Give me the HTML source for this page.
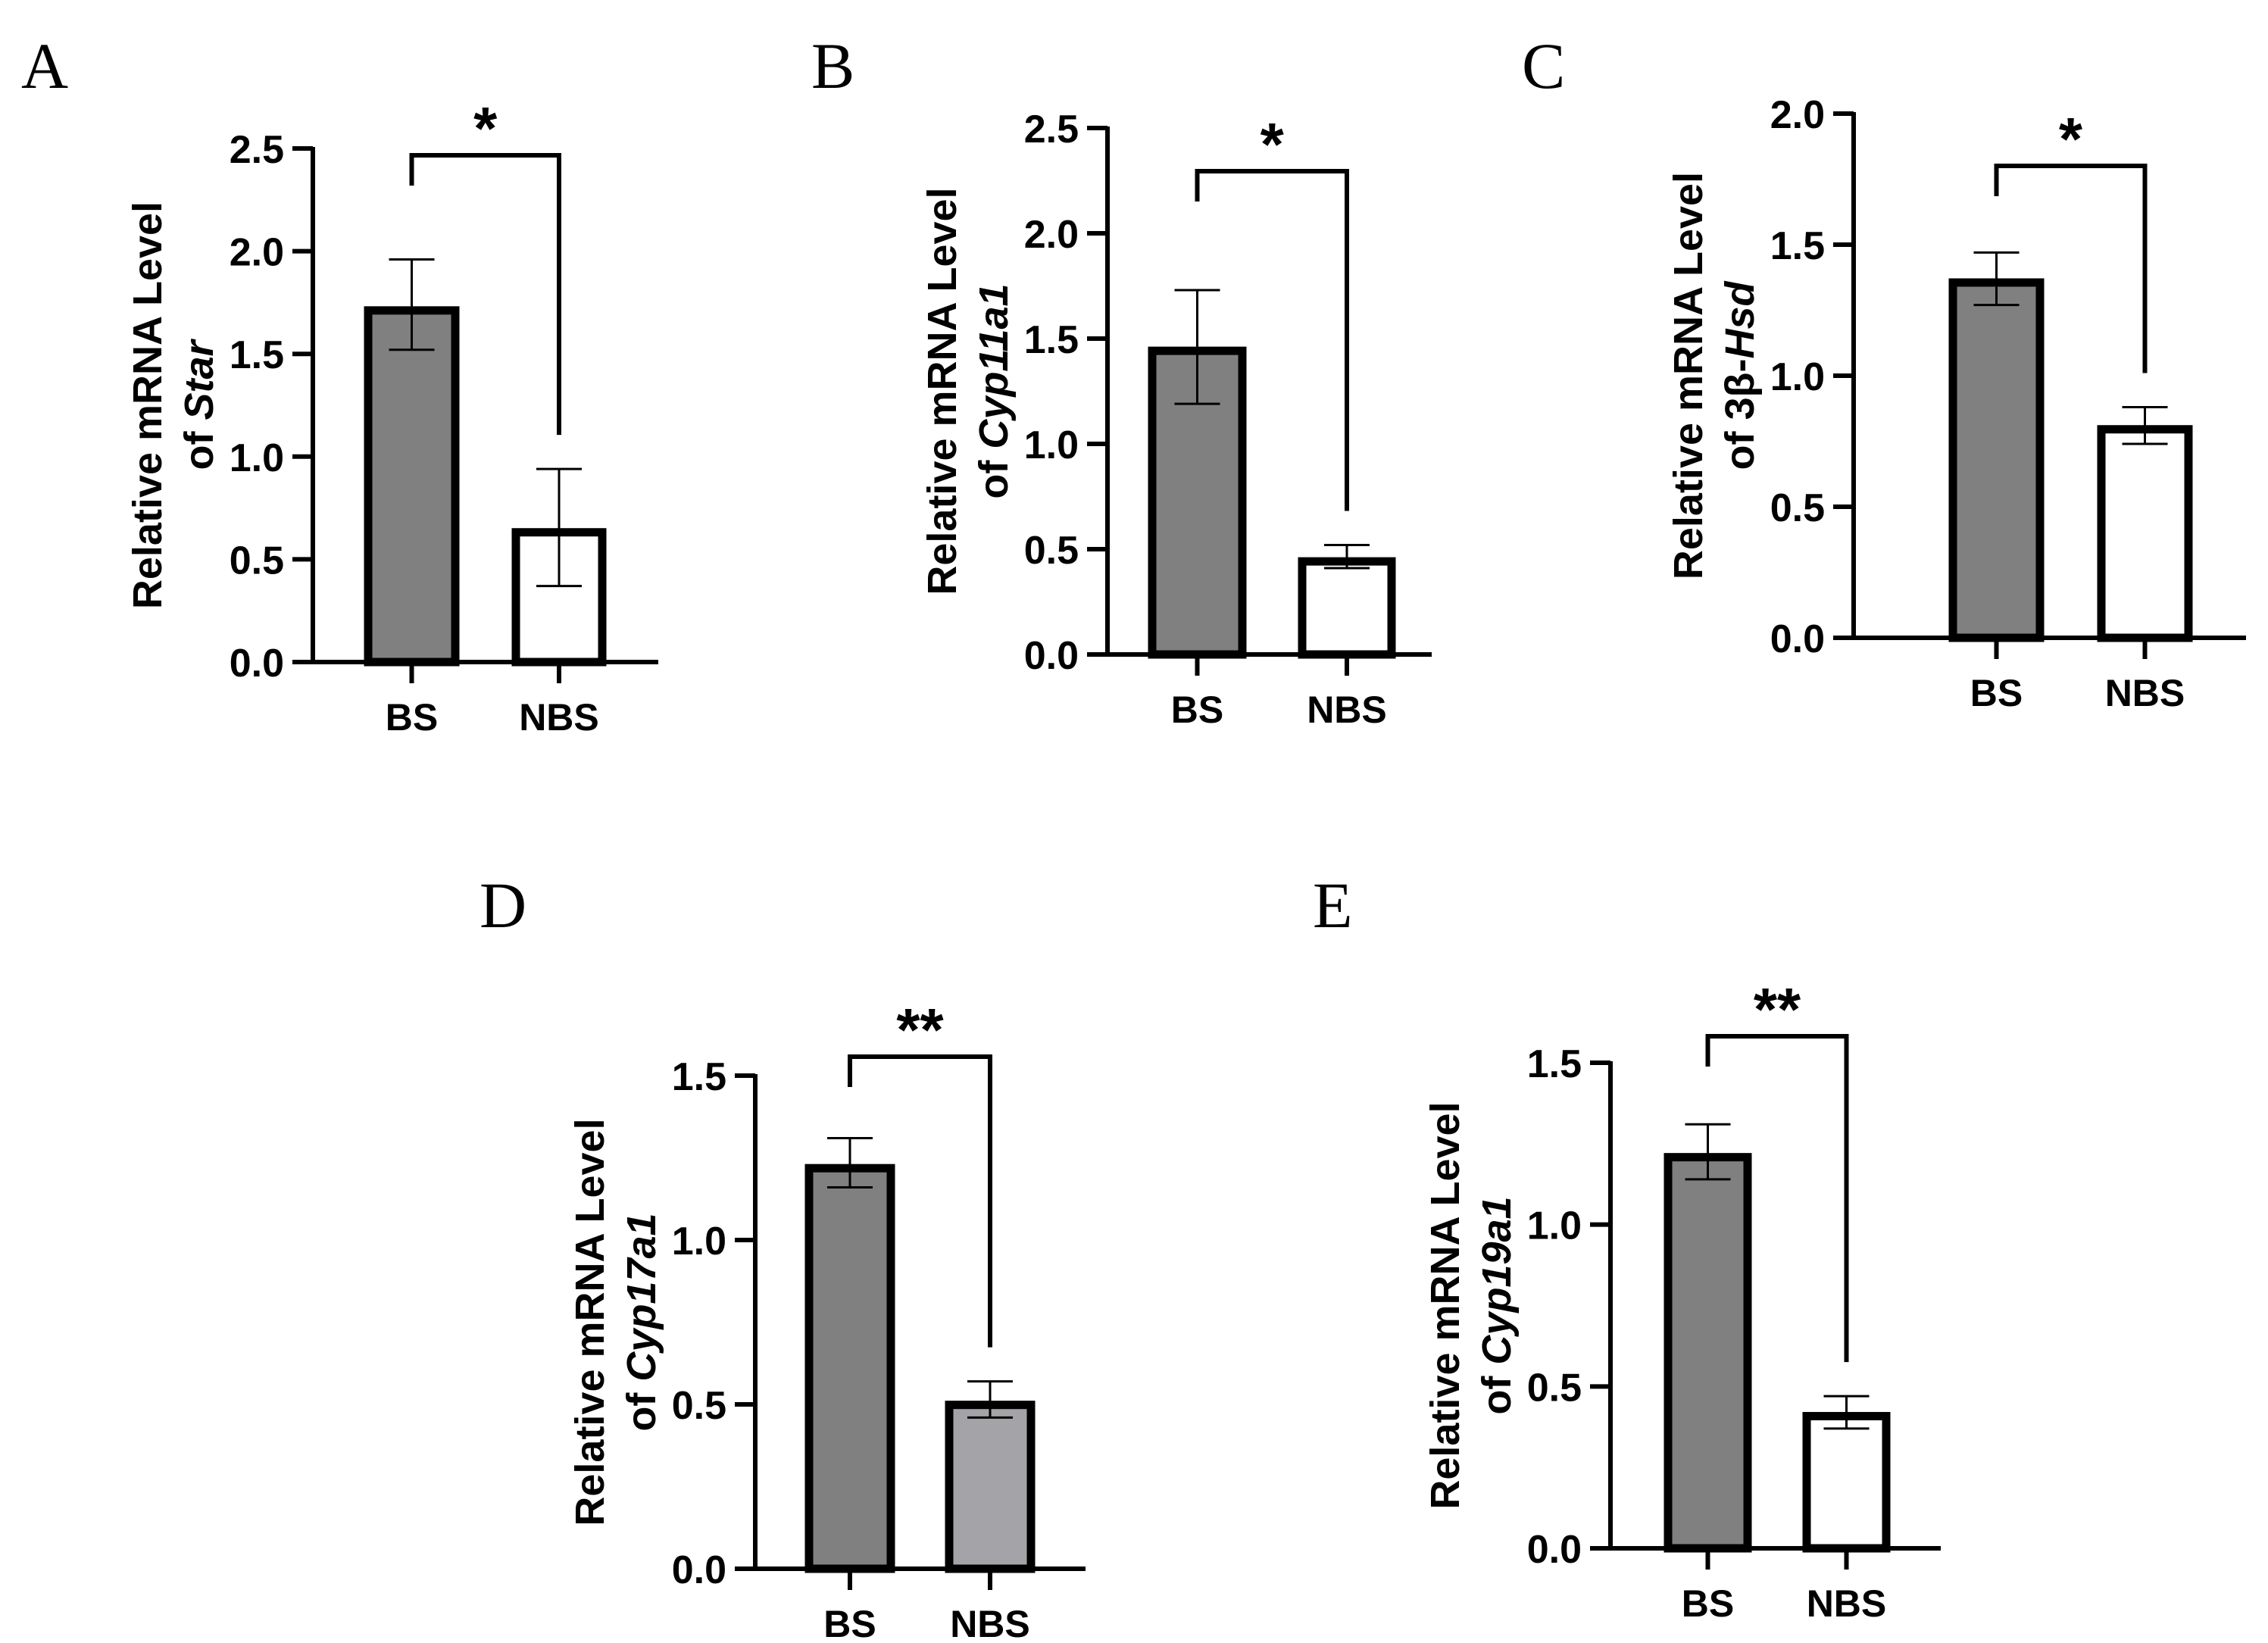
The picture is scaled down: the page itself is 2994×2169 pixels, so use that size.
<!DOCTYPE html>
<html><head><meta charset="utf-8">
<style>
html,body{margin:0;padding:0;background:#fff;}
svg{display:block;}
text{font-family:"Liberation Sans",Arial,sans-serif;}
.tick{font-weight:bold;font-size:52px;}
.ttl{font-weight:bold;font-size:54px;}
.xl{font-weight:bold;font-size:50px;}
.let{font-family:"Liberation Serif",serif;font-size:86px;}
.star{font-weight:bold;font-size:80px;}
</style></head>
<body>
<svg id="fig" width="2994" height="2169" viewBox="0 0 2994 2169" xmlns="http://www.w3.org/2000/svg"></svg>
<script>
const categories = ["BS","NBS"];
const meansA = [1.73, 0.65], errLoA = [1.52, 0.37], errHiA = [1.96, 0.94];
const meansB = [1.46, 0.46], errLoB = [1.19, 0.41], errHiB = [1.73, 0.52];
const meansC = [1.37, 0.81], errLoC = [1.27, 0.74], errHiC = [1.47, 0.88];
const meansD = [1.23, 0.51], errLoD = [1.16, 0.46], errHiD = [1.31, 0.57];
const meansE = [1.22, 0.42], errLoE = [1.14, 0.37], errHiE = [1.31, 0.47];
const ticksA = ["0.0","0.5","1.0","1.5","2.0","2.5"];
const ticksB = ["0.0","0.5","1.0","1.5","2.0","2.5"];
const ticksC = ["0.0","0.5","1.0","1.5","2.0"];
const ticksD = ["0.0","0.5","1.0","1.5"];
const ticksE = ["0.0","0.5","1.0","1.5"];
const sigA = "*", sigB = "*", sigC = "*", sigD = "**", sigE = "**";

const NS = "http://www.w3.org/2000/svg";
const svg = document.getElementById("fig");
function mk(tag, attrs, parent){
  const e = document.createElementNS(NS, tag);
  for (const k in attrs) e.setAttribute(k, attrs[k]);
  (parent||svg).appendChild(e);
  return e;
}

const panels = [
 {id:"a", letter:"A", lx:28, ly:116, ax:413, y0:874, ytop:196, ticks:ticksA, means:meansA, lo:errLoA, hi:errHiA, sig:sigA,
  bars:[[481,606],[676,800]], xend:869, bry:205, gene:"Star", pre:"of ", fills:["#808080","#ffffff"]},
 {id:"b", letter:"B", lx:1071, ly:116, ax:1462, y0:864, ytop:169, ticks:ticksB, means:meansB, lo:errLoB, hi:errHiB, sig:sigB,
  bars:[[1516,1645],[1714,1842]], xend:1890, bry:226, gene:"Cyp11a1", pre:"of ", fills:["#808080","#ffffff"]},
 {id:"c", letter:"C", lx:2009, ly:116, ax:2447, y0:842, ytop:150, ticks:ticksC, means:meansC, lo:errLoC, hi:errHiC, sig:sigC,
  bars:[[2573,2698],[2769,2894]], xend:2965, bry:219, gene:"Hsd", pre:"of 3β-", fills:["#808080","#ffffff"]},
 {id:"d", letter:"D", lx:633, ly:1224, ax:997, y0:2071, ytop:1420, ticks:ticksD, means:meansD, lo:errLoD, hi:errHiD, sig:sigD,
  bars:[[1063,1181],[1248,1366]], xend:1433, bry:1395, gene:"Cyp17a1", pre:"of ", fills:["#808080","#a4a4a8"]},
 {id:"e", letter:"E", lx:1733, ly:1224, ax:2126, y0:2044, ytop:1403, ticks:ticksE, means:meansE, lo:errLoE, hi:errHiE, sig:sigE,
  bars:[[2197,2312],[2380,2495]], xend:2562, bry:1368, gene:"Cyp19a1", pre:"of ", fills:["#808080","#ffffff"]}
];

panels.forEach(p=>{
  const g = mk("g", {});
  
  
  const ymax = parseFloat(p.ticks[p.ticks.length-1]);
  const ys = v => p.y0 - (p.y0 - p.ytop) * v / ymax;

  const L = mk("text", {x:p.lx, y:p.ly, class:"let"}, g);
  L.textContent = p.letter;
  
  

  const ya = mk("line", {x1:p.ax, y1:p.ytop-2, x2:p.ax, y2:p.y0+2, stroke:"#000","stroke-width":6}, g);
  
  
  p.ticks.forEach(t=>{
    const y = ys(parseFloat(t));
    mk("line", {x1:p.ax-27, y1:y, x2:p.ax, y2:y, stroke:"#000","stroke-width":6}, g);
    const tx = mk("text", {x:p.ax-38, y:y+19, class:"tick","text-anchor":"end"}, g);
    tx.textContent = t;
    
    
  });
  const xa = mk("line", {x1:p.ax-27, y1:p.y0, x2:p.xend, y2:p.y0, stroke:"#000","stroke-width":6}, g);
  
  

  const cy = (p.y0 + p.ytop)/2;
  const t1x = p.ax-200, t2x = p.ax-132;
  const tt = mk("text", {class:"ttl","text-anchor":"middle", transform:`translate(${t1x},${cy}) rotate(-90)`}, g);
  tt.textContent = "Relative mRNA Level";
  
  
  const t2 = mk("text", {class:"ttl","text-anchor":"middle", transform:`translate(${t2x},${cy}) rotate(-90)`}, g);
  const s1 = mk("tspan", {}, t2); s1.textContent = p.pre;
  const s2 = mk("tspan", {"font-style":"italic"}, t2); s2.textContent = p.gene;
  
  

  const centers = [];
  categories.forEach((c,i)=>{
    const [x1,x2] = p.bars[i];
    const cx = (x1+x2)/2; centers.push(cx);
    const yt = ys(p.means[i]);
    const r = mk("rect", {x:x1+5, y:yt+5, width:x2-x1-10, height:p.y0-yt-5, fill:p.fills[i], stroke:"#000","stroke-width":11}, g);
    
    
    const eh = ys(p.hi[i]), el = ys(p.lo[i]);
    const eg = mk("g", {stroke:"#000","stroke-width":3}, g);
    
    
    mk("line", {x1:cx, y1:eh, x2:cx, y2:el}, eg);
    mk("line", {x1:cx-30, y1:eh, x2:cx+30, y2:eh}, eg);
    mk("line", {x1:cx-30, y1:el, x2:cx+30, y2:el}, eg);
    mk("line", {x1:cx, y1:p.y0, x2:cx, y2:p.y0+28, stroke:"#000","stroke-width":6}, g);
    const xl = mk("text", {x:cx, y:p.y0+90, class:"xl","text-anchor":"middle"}, g);
    xl.textContent = c;
    
    
  });
  const rDrop = ys(p.hi[1]) - 45;
  const br = mk("polyline", {points:`${centers[0]},${p.bry+40} ${centers[0]},${p.bry} ${centers[1]},${p.bry} ${centers[1]},${rDrop}`, fill:"none", stroke:"#000","stroke-width":6}, g);
  
  
  const st = mk("text", {x:(centers[0]+centers[1])/2, y:p.bry-8, class:"star","text-anchor":"middle"}, g);
  st.textContent = p.sig;
  
  
});
</script>
</body></html>
